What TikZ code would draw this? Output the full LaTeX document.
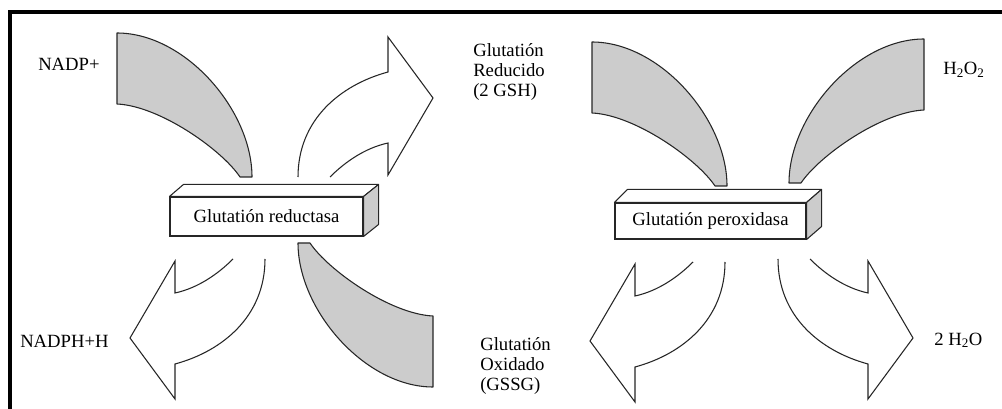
\documentclass[tikz,border=0pt]{standalone}
\usepackage{fontspec}
\setmainfont{Liberation Serif}
\begin{document}
\begin{tikzpicture}[x=0.75pt,y=-0.75pt,
  band/.style={fill=black!20,draw=black!85,line width=0.8pt,line join=round},
  warrow/.style={fill=white,draw=black!85,line width=0.8pt,line join=miter},
  lbl/.style={font=\fontsize{14}{15}\selectfont,inner sep=0pt,align=left,anchor=base west},
  enzfront/.style={draw=black!85,fill=white,line width=0.8pt,inner sep=0pt,font=\fontsize{14}{15}\selectfont},
  enzside/.style={draw=black!85,line width=0.8pt,line join=round}
]
\useasboundingbox (0,0) rectangle (1002,409);
% frame
\draw[line width=3pt,line cap=butt,line join=miter] (10,409) -- (10,12) -- (1002,12);

% ---------- left group ----------
\filldraw[band] (117,33) .. controls (185,33) and (252,110) .. (252,177) -- (240,177) .. controls (222,150) and (160,106) .. (117,104) -- cycle;
\filldraw[band] (433,387) .. controls (365,387) and (298,310) .. (298,243) -- (310,243) .. controls (328,270) and (390,314) .. (433,316) -- cycle;
\filldraw[warrow] (298,177) .. controls (298,120) and (340,85) .. (388,72) -- (388,37) -- (433,98) -- (388,175) -- (388,143) .. controls (365,148) and (345,162) .. (330,177);
\filldraw[warrow] (265,259) .. controls (265,316) and (223,351) .. (175,364) -- (175,399) -- (130,338) -- (175,261) -- (175,293) .. controls (198,288) and (218,274) .. (233,259);

\node[enzfront,minimum width=144.75pt,minimum height=29.25pt] (gr) at (266.5,216.5) {Glutatión reductasa};
\filldraw[enzside,fill=white] (gr.north west) -- ++(14,-12) -- ([shift={(15,-12)}]gr.north east) -- (gr.north east) -- cycle;
\filldraw[enzside,fill=black!20] (gr.north east) -- ++(15,-12) -- ([shift={(15,-12)}]gr.south east) -- (gr.south east) -- cycle;

\node[lbl] (nadp) at (38,71) {NADP+};
\node[lbl] (nadph) at (20,348) {NADPH+H};
\node[lbl] (gsh) at (473,97) {Glutatión\\Reducido\\(2 GSH)};
\node[lbl] (gssg) at (480,390) {Glutatión\\Oxidado\\(GSSG)};

% ---------- right group ----------
\filldraw[band] (592,42) .. controls (660,42) and (727,119) .. (727,186) -- (715,186) .. controls (697,159) and (635,115) .. (592,113) -- cycle;
\filldraw[band] (924,39) .. controls (856,39) and (789,116) .. (789,183) -- (801,183) .. controls (819,156) and (881,112) .. (924,110) -- cycle;
\filldraw[warrow] (725,262) .. controls (725,319) and (683,354) .. (635,367) -- (635,402) -- (590,341) -- (635,264) -- (635,296) .. controls (658,291) and (678,277) .. (693,262);
\filldraw[warrow] (778,259) .. controls (778,316) and (820,351) .. (868,364) -- (868,399) -- (913,338) -- (868,261) -- (868,293) .. controls (845,288) and (825,274) .. (810,259);

\node[enzfront,minimum width=143.25pt,minimum height=27pt] (gp) at (710.5,221) {Glutatión peroxidasa};
\filldraw[enzside,fill=white] (gp.north west) -- ++(13,-13) -- ([shift={(15,-13)}]gp.north east) -- (gp.north east) -- cycle;
\filldraw[enzside,fill=black!20] (gp.north east) -- ++(15,-13) -- ([shift={(15,-13)}]gp.south east) -- (gp.south east) -- cycle;

\node[lbl] (h2o2) at (943,75) {H\textsubscript{2}O\textsubscript{2}};
\node[lbl] (h2o) at (934,345) {2 H\textsubscript{2}O};
\end{tikzpicture}
\end{document}
